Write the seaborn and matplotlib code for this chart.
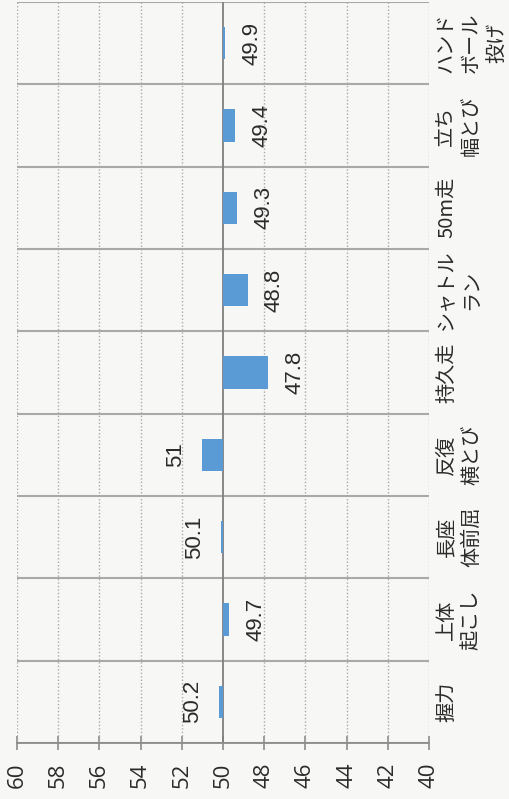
import numpy as np
import pandas as pd
import matplotlib
matplotlib.use("Agg")
import matplotlib.pyplot as plt
import seaborn as sns

# chart data
categories = ["握力", "上体\n起こし", "長座\n体前屈", "反復\n横とび", "持久走",
              "シャトル\nラン", "50m走", "立ち\n幅とび", "ハンド\nボール\n投げ"]
values = [50.2, 49.7, 50.1, 51.0, 47.8, 48.8, 49.3, 49.4, 49.9]
baseline = 50
value_ticks = [60, 58, 56, 54, 52, 50, 48, 46, 44, 42, 40]

sns.set_theme(style="white")
plt.rcParams["font.family"] = ["Noto Sans CJK JP", "DejaVu Sans"]

bg = "#f7f7f5"
grid_c = "#a9a9a9"
text_c = "#2b2b2b"

df = pd.DataFrame({"category": categories, "value": values})
df["diff"] = df["value"] - baseline

fig = plt.figure(figsize=(5.1, 7.99), dpi=100, facecolor=bg)
ax = fig.add_axes([17 / 510, 1 - 743 / 799, (429 - 17) / 510, (743 - 2) / 799])
ax.set_facecolor(bg)

sns.barplot(data=df, x="diff", y="category", orient="y", color="#5b9bd5",
            saturation=1, width=0.39, linewidth=0, edgecolor="none",
            ax=ax, zorder=3)

# value axis runs 60 -> 40 from left to right, bars grow from 50
ax.set_xlim(value_ticks[0] - baseline, value_ticks[-1] - baseline)
ax.set_ylim(-0.5, len(categories) - 0.5)
ax.set_xticks([t - baseline for t in value_ticks])
ax.set_xticklabels([str(t) for t in value_ticks], rotation=90,
                   family=["Open Sans", "DejaVu Sans"])

# grid: dotted verticals, solid category separators, solid line at 50
for t in value_ticks:
    if t == baseline:
        ax.axvline(0, color="#7f7f7f", lw=1.3, zorder=2.5)
    else:
        ax.axvline(t - baseline, color=grid_c, lw=1.0, ls=(0, (1, 1.5)), zorder=1)
for y in np.arange(-0.5, len(categories)):
    ax.axhline(y, color=grid_c, lw=1.5, zorder=2)

# data labels just past the bar ends
for i, (v, d) in enumerate(zip(df["value"], df["diff"])):
    ax.text(d + np.sign(d) * 1.3, i, f"{v:g}", rotation=90, ha="center",
            va="center", fontsize=16, color=text_c, zorder=5,
            family=["Liberation Sans", "DejaVu Sans"])

ax.set_xlabel("")
ax.set_ylabel("")
for s in ["left", "right", "top"]:
    ax.spines[s].set_visible(False)
ax.spines["bottom"].set_color("#8c8c8c")
ax.spines["bottom"].set_linewidth(1.3)
ax.tick_params(axis="x", direction="inout", length=10, width=1.2,
               color="#8c8c8c", labelsize=16, labelcolor=text_c, pad=9,
               bottom=True)

ax.yaxis.tick_right()
ax.tick_params(axis="y", length=0, pad=5, labelsize=14.5, labelcolor=text_c,
               labelrotation=90)
for lbl in ax.get_yticklabels():
    lbl.set_multialignment("center")
    lbl.set_verticalalignment("center")
    lbl.set_linespacing(1.25)

fig.savefig("out.png", dpi=100, facecolor=bg)
